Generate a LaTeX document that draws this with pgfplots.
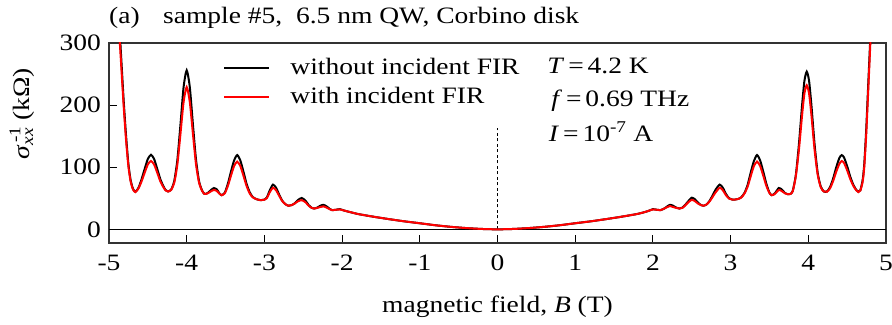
\documentclass[border=0pt]{standalone}
\usepackage{fontspec}
\setmainfont{Liberation Serif}[FakeStretch=1.17]
\usepackage{pgfplots}
\usepackage{pgfplotstable}
\pgfplotsset{compat=1.18}

% sigma_xx^-1 without incident radiation
\pgfplotstableread{
B s
-4.93 470
-4.90 400
-4.87 335
-4.84 270
-4.81 205
-4.78 150
-4.75 105
-4.72 78
-4.69 65
-4.66 60.5
-4.62 67
-4.58 81
-4.54 97.6
-4.50 113.4
-4.46 120
-4.42 113.4
-4.38 97.6
-4.34 81
-4.30 69.4
-4.27 63
-4.24 61
-4.20 64
-4.16 78
-4.12 112
-4.08 169
-4.04 229
-4.00 256
-3.96 229
-3.92 169
-3.88 112
-3.84 77
-3.80 62
-3.77 57
-3.73 58.5
-3.69 63
-3.65 66.5
-3.61 64
-3.58 58
-3.55 55
-3.51 59
-3.47 73.5
-3.43 93
-3.39 111
-3.35 119.6
-3.31 111
-3.27 93
-3.23 73.5
-3.19 60
-3.15 52
-3.10 48.5
-3.05 47
-3.01 47.5
-2.97 51
-2.93 63
-2.89 72
-2.85 67
-2.81 56
-2.77 46
-2.73 40.5
-2.69 38
-2.65 39
-2.61 42
-2.57 47
-2.52 50.5
-2.47 46
-2.43 39
-2.39 34.5
-2.36 33.5
-2.32 35
-2.28 38
-2.24 39.5
-2.20 37
-2.16 33
-2.13 31
-2.08 31.5
-2.03 32.5
-1.98 30.5
-1.92 28.5
-1.80 24.8
-1.60 20.4
-1.40 16.5
-1.20 12.9
-1.00 9.8
-0.80 6.6
-0.60 4.0
-0.40 2.0
-0.20 0.6
0.00 0
0.20 0.6
0.40 2.0
0.60 4.0
0.80 6.6
1.00 9.8
1.20 12.9
1.40 16.5
1.60 20.4
1.80 24.8
1.90 28
1.95 30
2.00 32.5
2.05 31.5
2.10 31
2.14 33
2.18 36.5
2.22 39.5
2.26 38
2.30 35
2.34 33.5
2.38 35
2.42 40
2.46 46
2.50 51
2.54 48.5
2.58 43
2.62 39
2.65 38
2.69 40
2.73 46
2.77 55
2.81 64.5
2.86 72
2.90 67
2.94 57
2.98 50
3.02 48
3.06 48
3.10 49
3.14 52
3.18 59
3.22 72
3.26 92
3.30 110
3.34 119.6
3.38 111
3.42 93
3.46 73.5
3.50 59
3.53 55
3.57 58
3.62 66.5
3.66 64
3.70 58.5
3.74 56.5
3.77 57
3.80 62
3.84 88
3.88 138
3.92 200
3.95 239
3.98 254
4.01 239
4.04 200
4.08 138
4.12 91.5
4.16 69
4.20 61
4.24 61
4.28 68
4.32 82
4.36 100
4.40 115
4.43 119.5
4.46 115.7
4.50 101.7
4.54 84.7
4.58 71.6
4.62 63
4.645 60.5
4.67 63
4.70 80
4.72 105
4.745 160
4.77 230
4.795 300
4.82 380
4.85 460
}\withoutFIR

% sigma_xx^-1 under 0.69 THz irradiation
\pgfplotstableread{
B s
-4.93 440
-4.90 385
-4.87 320
-4.84 258
-4.81 196
-4.78 143
-4.75 101
-4.72 76
-4.69 64
-4.66 60
-4.62 66
-4.58 77.5
-4.54 91.5
-4.50 104.5
-4.46 110
-4.42 104.5
-4.38 91.5
-4.34 77.5
-4.30 67.8
-4.27 62.5
-4.24 61
-4.20 63.5
-4.16 75
-4.12 104.5
-4.08 154
-4.04 205
-4.00 229
-3.96 205
-3.92 154
-3.88 104.5
-3.84 74.5
-3.80 61.5
-3.77 57
-3.73 58
-3.69 61
-3.65 63.5
-3.61 61.5
-3.58 57.5
-3.55 55
-3.51 58
-3.47 70
-3.43 86.5
-3.39 102
-3.35 109
-3.31 102
-3.27 86.5
-3.23 70
-3.19 58
-3.15 51.5
-3.10 48.5
-3.05 47
-3.01 47.5
-2.97 50
-2.93 60
-2.89 67
-2.85 63
-2.81 54
-2.77 45.5
-2.73 40.5
-2.69 38
-2.65 39
-2.61 41.5
-2.57 45
-2.52 47
-2.47 43.5
-2.43 38
-2.39 34.5
-2.36 33.5
-2.32 34.5
-2.28 36
-2.24 37
-2.20 35
-2.16 32.5
-2.13 31
-2.08 31.5
-2.03 32
-1.98 30.5
-1.92 28.5
-1.80 24.8
-1.60 20.4
-1.40 16.5
-1.20 12.9
-1.00 9.8
-0.80 6.6
-0.60 4.0
-0.40 2.0
-0.20 0.6
0.00 0
0.20 0.6
0.40 2.0
0.60 4.0
0.80 6.6
1.00 9.8
1.20 12.9
1.40 16.5
1.60 20.4
1.80 24.8
1.90 28
1.95 30
2.00 32
2.05 31.5
2.10 31
2.14 33
2.18 35.5
2.22 37.5
2.26 36
2.30 34.5
2.34 33.5
2.38 34.5
2.42 39
2.46 44
2.50 47.5
2.54 45.5
2.58 41.5
2.62 39
2.65 38
2.69 40
2.73 45
2.77 52.5
2.81 60
2.86 67
2.90 63
2.94 55
2.98 49.5
3.02 48
3.06 48
3.10 49
3.14 51.5
3.18 58
3.22 69
3.26 86
3.30 102
3.34 109
3.38 102
3.42 86.5
3.46 70
3.50 58.5
3.53 55
3.57 57
3.62 63.5
3.66 61.5
3.70 58
3.74 56.5
3.77 57
3.80 61.5
3.84 86
3.88 129
3.92 184
3.95 218.6
3.98 232
4.01 218.6
4.04 184
4.08 129
4.12 88.5
4.16 67.7
4.20 61
4.24 60.5
4.28 66
4.32 78
4.36 93
4.40 105.5
4.43 110
4.46 106.8
4.50 95
4.54 81
4.58 69.8
4.62 62.5
4.645 60
4.67 62.5
4.70 77
4.72 100
4.745 152
4.77 220
4.795 290
4.82 370
4.85 450
}\withFIR

\begin{document}
\fontsize{23.5}{28}\selectfont
\begin{tikzpicture}
\begin{axis}[
  width=777pt, height=200pt, scale only axis,
  clip mode=individual,
  xmin=-5, xmax=5, ymin=-22, ymax=300,
  xtick={-5,-4,...,5}, ytick={0,100,200,300},
  xtick pos=bottom, ytick pos=left,
  tick align=inside, major tick length=8pt,
  tick style={line width=1.1pt, black},
  axis line style={line width=1.4pt, black!80},
  /pgf/number format/assume math mode=true,
  xticklabel style={yshift=-4pt},
  xlabel={magnetic field, \textit{B} (T)},
  xlabel style={yshift=-9pt},
  ylabel={\textit{σ}\rlap{\textsuperscript{\,-1}}\textsubscript{\textit{xx}} (kΩ)},
  ylabel style={at={(axis description cs:-0.112,0.645)}, anchor=center},
  legend style={draw=none, fill=none, at={(axis description cs:0.147,0.925)},
    anchor=north west, row sep=9pt, column sep=18pt, inner sep=0pt,
    nodes={inner xsep=2pt, inner ysep=0pt}},
  legend cell align=left,
  legend image code/.code={\draw[#1] (0pt,0pt) -- (45pt,0pt);},
]
\addplot[black, line width=0.9pt, forget plot] coordinates {(-5,0) (5,0)};
\addplot[black, line width=0.9pt, dash pattern=on 3pt off 2.5pt, forget plot]
  coordinates {(0,0) (0,163)};
\addplot[black, line width=2pt, smooth, tension=0.4] table[x=B, y=s] {\withoutFIR};
\addlegendentry{without incident FIR}
\addplot[red, line width=2pt, smooth, tension=0.4] table[x=B, y=s] {\withFIR};
\addlegendentry{with incident FIR}
\node[anchor=base west, inner sep=0pt] at (axis cs:0.64,251.6) {\textit{T}\,=\,4.2 K};
\node[anchor=base west, inner sep=0pt] at (axis cs:0.69,197.3) {\textit{f}\,=\,0.69 THz};
\node[anchor=base west, inner sep=0pt] at (axis cs:0.66,140.8) {\textit{I}\,=\,10\textsuperscript{-7} A};
\end{axis}
\node[anchor=base west, inner sep=0pt] at ([yshift=19pt]current axis.north west)
  {(a)\quad sample \#5,\ \ 6.5 nm QW, Corbino disk};
\pgfresetboundingbox
\path ([xshift=-109pt,yshift=-81.3pt]current axis.south west)
  rectangle ([xshift=6pt,yshift=43pt]current axis.north east);
\end{tikzpicture}
\end{document}
